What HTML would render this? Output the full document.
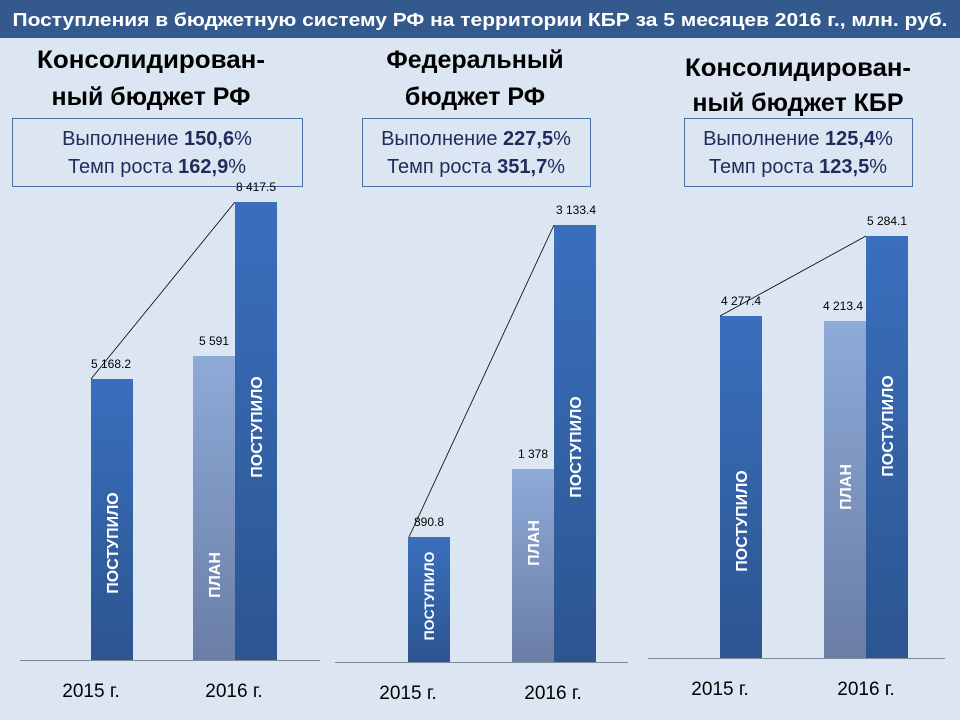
<!DOCTYPE html>
<html><head><meta charset="utf-8"><style>
body{margin:0;width:960px;height:720px;overflow:hidden;background:#dce6f2}
svg{display:block;font-family:"Liberation Sans","DejaVu Sans",sans-serif}
</style></head><body>
<svg width="960" height="720" viewBox="0 0 960 720">
<defs>
<linearGradient id="p" x1="0" y1="0" x2="0" y2="1"><stop offset="0" stop-color="#3a6fbd"/><stop offset="1" stop-color="#2c5590"/></linearGradient>
<linearGradient id="q" x1="0" y1="0" x2="0" y2="1"><stop offset="0" stop-color="#8eaad8"/><stop offset="1" stop-color="#6a7ea6"/></linearGradient>
</defs>
<rect x="0" y="0" width="960" height="720" fill="#dce6f2"/>
<rect x="0" y="0" width="960" height="38" fill="#34598c"/>
<text x="480" y="26" text-anchor="middle" font-size="18.5" font-weight="bold" fill="#fff" textLength="935" lengthAdjust="spacingAndGlyphs">Поступления в бюджетную систему РФ на территории КБР за 5 месяцев 2016 г., млн. руб.</text>

<g font-size="25" font-weight="bold" fill="#000" text-anchor="middle">
<text x="151" y="68" textLength="228" lengthAdjust="spacingAndGlyphs">Консолидирован-</text><text x="151" y="105">ный бюджет РФ</text>
<text x="475" y="68">Федеральный</text><text x="475" y="105">бюджет РФ</text>
<text x="798" y="76" textLength="226" lengthAdjust="spacingAndGlyphs">Консолидирован-</text><text x="798" y="111">ный бюджет КБР</text>
</g>
<g fill="none" stroke="#4a6fa5" stroke-width="1">
<rect x="12.5" y="118.5" width="290" height="68"/>
<rect x="362.5" y="118.5" width="228" height="68"/>
<rect x="684.5" y="118.5" width="228" height="68"/>
</g>
<g font-size="20" fill="#1f2d5c" text-anchor="middle">
<text x="157" y="145">Выполнение <tspan font-weight="bold">150,6</tspan>%</text>
<text x="157" y="173">Темп роста <tspan font-weight="bold">162,9</tspan>%</text>
<text x="476" y="145">Выполнение <tspan font-weight="bold">227,5</tspan>%</text>
<text x="476" y="173">Темп роста <tspan font-weight="bold">351,7</tspan>%</text>
<text x="798" y="145">Выполнение <tspan font-weight="bold">125,4</tspan>%</text>
<text x="798" y="173">Темп роста <tspan font-weight="bold">123,5</tspan>%</text>
</g>

<rect x="91" y="379" width="42" height="281" fill="url(#p)"/>
<rect x="193" y="356" width="42" height="304" fill="url(#q)"/>
<rect x="235" y="202" width="42" height="458" fill="url(#p)"/>
<line x1="20" y1="660.5" x2="320" y2="660.5" stroke="#7f8a99"/>
<line x1="91" y1="379" x2="235" y2="202" stroke="#000" stroke-width="0.8"/>
<rect x="408" y="537" width="42" height="125" fill="url(#p)"/>
<rect x="512" y="469" width="42" height="193" fill="url(#q)"/>
<rect x="554" y="225" width="42" height="437" fill="url(#p)"/>
<line x1="335" y1="662.5" x2="628" y2="662.5" stroke="#7f8a99"/>
<line x1="409" y1="537" x2="554" y2="225" stroke="#000" stroke-width="0.8"/>
<rect x="720" y="316" width="42" height="342" fill="url(#p)"/>
<rect x="824" y="321" width="42" height="337" fill="url(#q)"/>
<rect x="866" y="236" width="42" height="422" fill="url(#p)"/>
<line x1="648" y1="658.5" x2="945" y2="658.5" stroke="#7f8a99"/>
<line x1="720" y1="316" x2="866" y2="236" stroke="#000" stroke-width="0.8"/>

<g font-size="12" fill="#000" text-anchor="middle">
<text x="111" y="368">5 168.2</text>
<text x="214" y="345">5 591</text>
<text x="256" y="191">8 417.5</text>
<text x="429" y="526">890.8</text>
<text x="533" y="458">1 378</text>
<text x="576" y="214">3 133.4</text>
<text x="741" y="305">4 277.4</text>
<text x="843" y="310">4 213.4</text>
<text x="887" y="225">5 284.1</text>
</g>

<g font-size="16" font-weight="bold" fill="#fff" text-anchor="middle">
<text transform="translate(118,543) rotate(-90)">ПОСТУПИЛО</text>
<text transform="translate(220,575) rotate(-90)">ПЛАН</text>
<text transform="translate(262,427) rotate(-90)">ПОСТУПИЛО</text>
<text transform="translate(434,596) rotate(-90)" font-size="14">ПОСТУПИЛО</text>
<text transform="translate(539,543) rotate(-90)">ПЛАН</text>
<text transform="translate(581,447) rotate(-90)">ПОСТУПИЛО</text>
<text transform="translate(747,521) rotate(-90)">ПОСТУПИЛО</text>
<text transform="translate(851,487) rotate(-90)">ПЛАН</text>
<text transform="translate(893,426) rotate(-90)">ПОСТУПИЛО</text>
</g>

<g font-size="19" fill="#000" text-anchor="middle">
<text x="91" y="697">2015 г.</text>
<text x="234" y="697">2016 г.</text>
<text x="408" y="699">2015 г.</text>
<text x="553" y="699">2016 г.</text>
<text x="720" y="695">2015 г.</text>
<text x="866" y="695">2016 г.</text>
</g>
</svg>
</body></html>
